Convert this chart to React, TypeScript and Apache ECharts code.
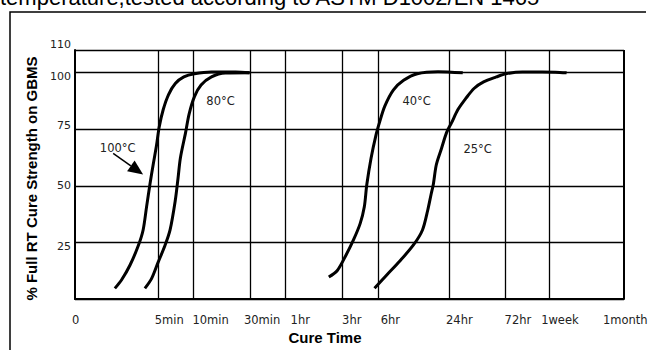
import React, { useEffect, useRef } from 'react';
import * as echarts from 'echarts';

// x axis: cure time in minutes (log scale); "0" sits at 1 minute
const tickMinutes = [1, 5, 10, 30, 60, 180, 360, 1440, 4320, 10080, 43200];
const tickLabels = ['0', '5min', '10min', '30min', '1hr', '3hr', '6hr', '24hr', '72hr', '1week', '1month'];
const yTickLabels = [25, 50, 75, 100, 110];

// [minutes, % of full RT cure strength]
const cure100: [number, number][] = [
  [2.17, 4.7], [2.47, 8.4], [2.91, 14.9], [3.42, 23.5], [3.76, 30.5], [4.02, 40.7], [4.29, 50.6],
  [4.57, 59.3], [4.88, 67.9], [5.13, 75.8], [5.56, 83.7], [6.15, 90.2], [7.03, 95.2], [8.3, 98.1],
  [10.2, 99.5], [14.2, 100.3], [22.7, 100.3], [29.8, 99.9],
];
const cure80: [number, number][] = [
  [3.89, 4.7], [4.43, 9.0], [5.03, 16.2], [5.74, 23.5], [6.35, 30.5], [7.02, 43.4], [7.4, 53.0],
  [7.76, 62.3], [8.59, 73.6], [9.18, 81.6], [10.2, 89.4], [11.6, 94.5], [14.2, 98.1], [18.6, 99.8],
  [29.8, 99.9],
];
const cure40: [number, number][] = [
  [139, 9.7], [164, 12.6], [193, 19.1], [225, 26.2], [256, 33.4], [277, 40.6], [291, 50.6],
  [316, 62.2], [347, 72.2], [372, 77.9], [412, 85.1], [487, 92.3], [595, 96.6], [777, 99.5],
  [1161, 100.4], [1880, 99.9],
];
const cure25: [number, number][] = [
  [338, 4.7], [425, 10.4], [556, 16.9], [726, 24.1], [859, 30.5], [950, 39.1], [1016, 46.3],
  [1060, 50.6], [1124, 59.3], [1243, 66.5], [1374, 73.6], [1513, 77.9], [1712, 83.7], [2002, 88.7],
  [2338, 93.0], [2818, 95.9], [3612, 98.1], [4352, 99.5], [5998, 100.3], [8810, 100.3],
  [11350, 100.2], [14160, 99.9],
];
const curveNames = ['100°C', '80°C', '40°C', '25°C'];
const curveData = [cure100, cure80, cure40, cure25];
const curveLabelAnchors: [number, number][] = [[1.62, 66.6], [12.85, 87.3], [582, 87.3], [1905, 66.2]];
const arrowFrom: [number, number] = [2.1, 64.3];
const arrowTo: [number, number] = [3.76, 55.0];

const titleText = 'temperature,tested according to ASTM D1002/EN 1465';
const xName = 'Cure Time';
const yName = '% Full RT Cure Strength on GBMS';

// small horizontal nudges of the tick labels (style)
const xLabelDx = [-3, -3, -1, -6, 5, 0, 3, -3, -1, -8, -21];

const SMALL_FONT = 'DejaVu Sans';

export default function App() {
  const ref = useRef<HTMLDivElement>(null);
  useEffect(() => {
    const chart = echarts.init(ref.current!, null, { renderer: 'svg' });
    const yRich: any = {
      up6: { padding: [0, 0, 12, 0] },
      down4: { padding: [8, 0, 0, 0] },
      up4: { padding: [0, 0, 8, 0] },
      mid: {},
    };
    const yStyleKey: Record<number, string> = { 110: 'up6', 100: 'down4', 75: 'up4', 50: 'mid', 25: 'down4' };
    chart.setOption({
      animation: false,
      backgroundColor: '#fff',
      grid: { left: 75, right: 27, top: 50, bottom: 43, containLabel: false },
      xAxis: {
        type: 'log',
        logBase: 10,
        min: tickMinutes[0],
        max: tickMinutes[tickMinutes.length - 1],
        name: xName,
        nameLocation: 'middle',
        nameGap: 31,
        nameTextStyle: {
          fontFamily: 'Liberation Sans',
          fontWeight: 'bold',
          fontSize: 15,
          color: '#000',
          padding: [0, 49, 0, 0],
        },
        axisLine: { show: true, lineStyle: { color: '#000', width: 2 } },
        axisTick: { show: false },
        axisLabel: { show: false },
        splitLine: { show: false },
        minorSplitLine: { show: false },
      },
      yAxis: {
        type: 'value',
        min: 0,
        max: 110,
        interval: 25,
        name: yName,
        nameLocation: 'middle',
        nameGap: 31,
        nameTextStyle: {
          fontFamily: 'Liberation Sans',
          fontWeight: 'bold',
          fontSize: 15,
          color: '#000',
          padding: [0, 8, 0, 0],
        },
        axisLine: { show: true, lineStyle: { color: '#000', width: 2 } },
        axisTick: { show: false },
        axisLabel: {
          margin: 4,
          fontFamily: SMALL_FONT,
          fontSize: 11,
          color: '#222',
          formatter: (v: number) => (yTickLabels.includes(v) ? `{${yStyleKey[v]}|${v}}` : ''),
          rich: yRich,
        },
        splitLine: { show: true, lineStyle: { color: '#000', width: 1.3 } },
      },
      series: curveData.map((d, i) => ({
        type: 'line',
        name: curveNames[i],
        data: d,
        showSymbol: false,
        symbol: 'none',
        smooth: 0.3,
        lineStyle: { color: '#000', width: 3 },
        z: 5,
        markLine:
          i === 0
            ? {
                silent: true,
                symbol: ['none', 'none'],
                label: { show: false },
                lineStyle: { color: '#000', type: 'solid', width: 1.3 },
                z: 1,
                data: tickMinutes.slice(1).map((m, k) => ({
                  xAxis: m,
                  lineStyle: k === tickMinutes.length - 2 ? { width: 2, color: '#000', type: 'solid' } : undefined,
                })),
              }
            : undefined,
      })),
    });

    const toPx = (p: [number, number]) => chart.convertToPixel({ gridIndex: 0 }, p) as number[];
    const yBottom = toPx([1, 0])[1];
    const graphics: any[] = [];
    // outer frame
    graphics.push({
      type: 'polyline',
      shape: { points: [[646, 12], [10, 12], [10, 360]] },
      style: { stroke: '#000', lineWidth: 1.5, fill: null },
      silent: true,
    });
    // title (cut off at the top, as in the source)
    graphics.push({
      type: 'text',
      x: 0,
      y: -3,
      style: {
        text: titleText,
        fill: '#000',
        font: '22px "Liberation Sans", Arial, sans-serif',
        align: 'left',
        verticalAlign: 'middle',
      },
      silent: true,
    });
    // x tick labels
    tickMinutes.forEach((m, i) => {
      const x = toPx([m, 0])[0];
      graphics.push({
        type: 'text',
        x: x + xLabelDx[i],
        y: yBottom + 21,
        style: {
          text: tickLabels[i],
          fill: '#222',
          font: `11.5px "${SMALL_FONT}"`,
          align: 'left',
          verticalAlign: 'middle',
        },
        silent: true,
      });
    });
    // curve labels
    curveLabelAnchors.forEach((a, i) => {
      const p = toPx(a);
      graphics.push({
        type: 'text',
        x: p[0],
        y: p[1],
        style: {
          text: curveNames[i],
          fill: '#222',
          font: `11.5px "${SMALL_FONT}"`,
          align: 'left',
          verticalAlign: 'middle',
        },
        silent: true,
      });
    });
    // arrow for 100°C
    const a0 = toPx(arrowFrom);
    const a1 = toPx(arrowTo);
    const dx = a1[0] - a0[0];
    const dy = a1[1] - a0[1];
    const len = Math.sqrt(dx * dx + dy * dy);
    const ux = dx / len;
    const uy = dy / len;
    const headLen = 15;
    const headHalf = 6.5;
    const bx = a1[0] - ux * headLen;
    const by = a1[1] - uy * headLen;
    graphics.push({
      type: 'line',
      shape: { x1: a0[0], y1: a0[1], x2: bx, y2: by },
      style: { stroke: '#000', lineWidth: 1.5 },
      silent: true,
    });
    graphics.push({
      type: 'polygon',
      shape: {
        points: [
          [a1[0], a1[1]],
          [bx - uy * headHalf, by + ux * headHalf],
          [bx + uy * headHalf, by - ux * headHalf],
        ],
      },
      style: { fill: '#000' },
      silent: true,
    });
    chart.setOption({ graphic: graphics });

    return () => chart.dispose();
  }, []);
  return <div ref={ref} style={{ position: 'fixed', left: 0, top: 0, width: 651, height: 350 }} />;
}
